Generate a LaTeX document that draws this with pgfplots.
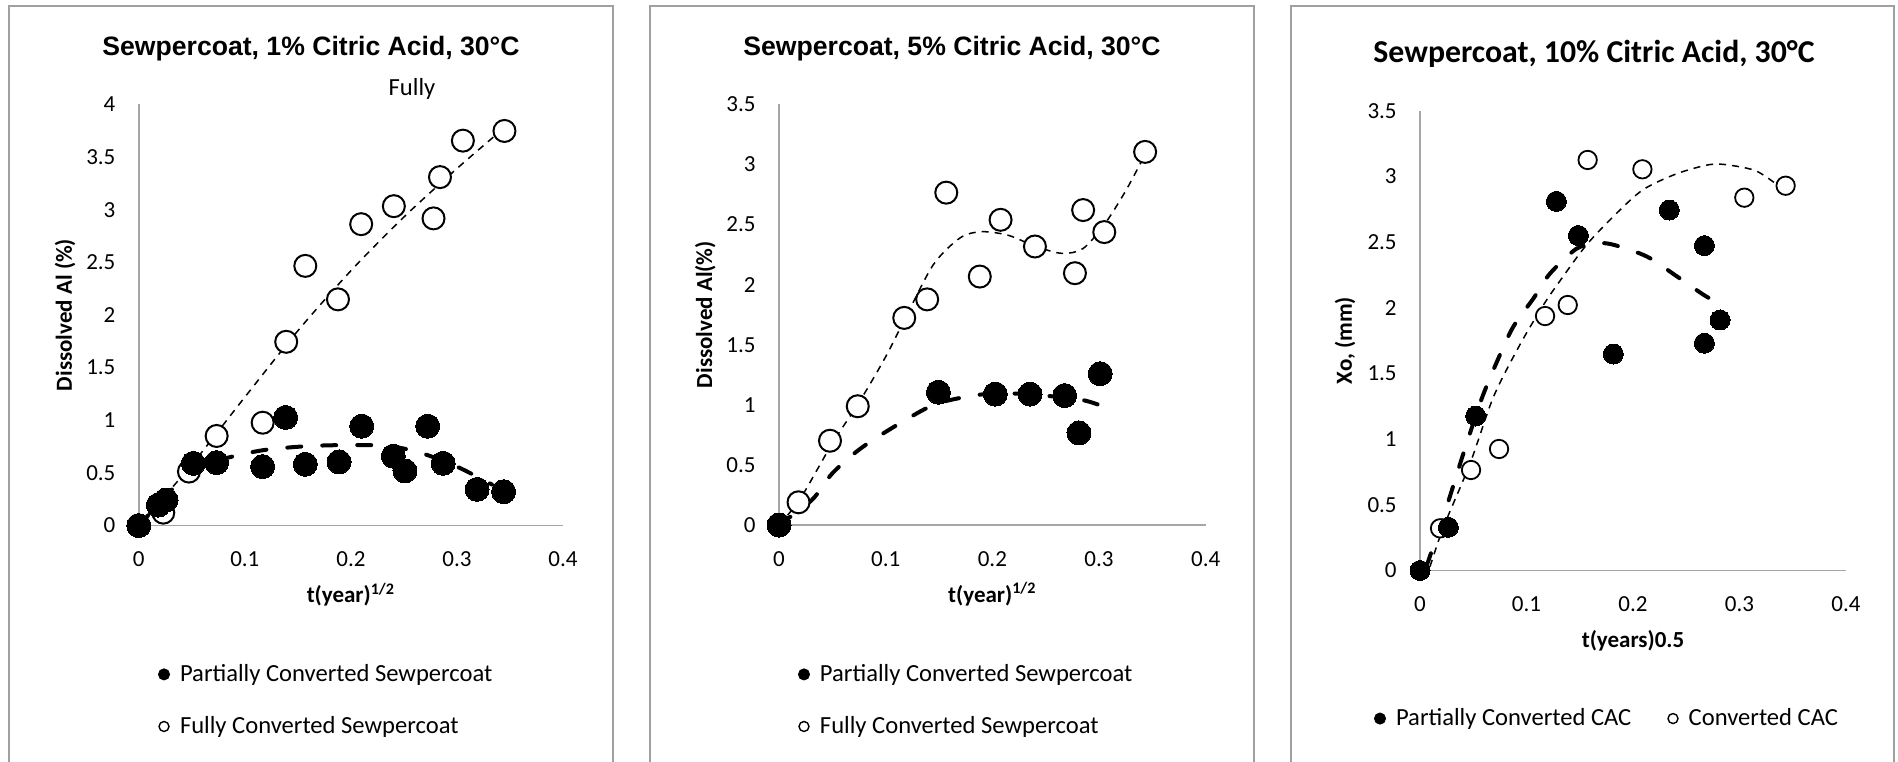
\documentclass[border=0pt]{standalone}
\usepackage{fontspec}
\setmainfont{Carlito}
\newfontfamily\arialfont{Liberation Sans}
\usepackage{pgfplots}
\pgfplotsset{compat=1.18}
\definecolor{framegray}{RGB}{160,160,160}
\definecolor{axisgray}{RGB}{166,166,166}

\pgfplotsset{
  panel/.style={
    scale only axis,
    axis lines=left,
    axis line style={axisgray, line width=0.8pt, -},
    xmin=0, xmax=0.4, ymin=0,
    xtick={0,0.1,0.2,0.3,0.4},
    major tick length=0pt,
    tick style={draw=none},
    /pgf/number format/assume math mode=true,
    /pgf/number format/fixed,
    /pgf/number format/precision=2,
    ticklabel style={font=\fontsize{11.5}{13}\selectfont, inner sep=0pt},
    yticklabel style={anchor=east, xshift=-11.5pt},
    xticklabel style={anchor=north, yshift=-13pt},
    clip=false,
    label style={font=\bfseries\fontsize{11.5}{13}\selectfont},
    legend style={draw=none, fill=none, inner sep=0pt, outer sep=0pt,
      font=\fontsize{12.3}{14}\selectfont, nodes={inner sep=0pt},
      cells={anchor=west}, row sep=16pt},
    legend cell align=left,
    /tikz/every odd column/.append style={column sep=5pt},
    reverse legend,
  },
  fillA/.style={only marks, mark=*, mark size=6pt, mark options={fill=black, draw=black, line width=0pt},
    legend image code/.code={\fill[black] (2.8pt,0pt) circle (2.8pt);}},
  openA/.style={only marks, mark=*, mark size=5.5pt, mark options={fill=white, draw=black, line width=1pt},
    legend image code/.code={\draw[black, line width=0.7pt, fill=white] (2.8pt,0pt) circle (2.5pt);}},
  fillB/.style={only marks, mark=*, mark size=5pt, mark options={fill=black, draw=black, line width=0pt},
    legend image code/.code={\fill[black] (2.8pt,0pt) circle (2.8pt);}},
  openB/.style={only marks, mark=*, mark size=4.6pt, mark options={fill=white, draw=black, line width=0.9pt},
    legend image code/.code={\draw[black, line width=0.7pt, fill=white] (2.8pt,0pt) circle (2.5pt);}},
  thicktrend/.style={black, line width=2pt, line cap=round, dash pattern=on 7pt off 10.5pt, smooth, no marks, forget plot},
  thintrend/.style={black, line width=0.75pt, dash pattern=on 3.5pt off 3pt, smooth, no marks, forget plot},
}

\begin{document}
\begin{tikzpicture}
\useasboundingbox (0,0) rectangle (949pt,380.5pt);
\fill[white] (0,0) rectangle (949pt,380.5pt);

% panel frames
\draw[framegray, line width=1pt] (4.5pt,-1pt) -- (4.5pt,377.5pt) -- (306.5pt,377.5pt) -- (306.5pt,-1pt);
\draw[framegray, line width=1pt] (325pt,-1pt) -- (325pt,377.5pt) -- (627pt,377.5pt) -- (627pt,-1pt);
\draw[framegray, line width=1pt] (645.5pt,-1pt) -- (645.5pt,377.5pt) -- (947pt,377.5pt) -- (947pt,-1pt);

% titles
\node[font=\arialfont\bfseries\fontsize{13.3}{16}\selectfont] at (155.5pt,356.25pt) {Sewpercoat, 1\% Citric Acid, 30°C};
\node[font=\arialfont\bfseries\fontsize{13.3}{16}\selectfont] at (476pt,356.25pt) {Sewpercoat, 5\% Citric Acid, 30°C};
\node[font=\bfseries\fontsize{15.9}{18}\selectfont] at (797pt,353.8pt) {Sewpercoat, 10\% Citric Acid, 30°C};
\node[font=\fontsize{12.3}{14}\selectfont] at (206pt,336.1pt) {Fully};

% ---------------- Panel 1 ----------------
\begin{axis}[panel,
  at={(69.4pt,117.7pt)}, anchor=origin,
  width=212.1pt, height=210.65pt,
  ymax=4, ytick={0,0.5,1,1.5,2,2.5,3,3.5,4},
  ylabel={Dissolved Al (\%)},
  ylabel style={at={(axis description cs:-0.174,0.5)}, anchor=center},
  xlabel={t(year)\textsuperscript{1/2}},
  xlabel style={at={(axis description cs:0.5,-0.164)}, anchor=center},
  legend style={at={(axis description cs:0.0453,-0.415)}, anchor=west},
]
\addplot[openA] coordinates {
 (0,0) (0.0231,0.123) (0.0473,0.513) (0.0734,0.851) (0.1168,0.977) (0.139,1.745)
 (0.157,2.466) (0.1878,2.148) (0.2097,2.862) (0.2405,3.033) (0.2779,2.917)
 (0.284,3.309) (0.3056,3.655) (0.3448,3.747)};
\addlegendentry{Fully Converted Sewpercoat}
\addplot[fillA] coordinates {
 (0,0) (0.0184,0.195) (0.0257,0.243) (0.0514,0.591) (0.0734,0.598) (0.1168,0.56)
 (0.1385,1.027) (0.157,0.582) (0.1888,0.605) (0.2102,0.944) (0.240,0.659)
 (0.251,0.52) (0.2724,0.944) (0.287,0.591) (0.319,0.344) (0.344,0.322)};
\addlegendentry{Partially Converted Sewpercoat}
\addplot[thicktrend] coordinates {
 (0,0) (0.02,0.22) (0.04,0.43) (0.06,0.57) (0.09,0.66) (0.12,0.72) (0.16,0.755)
 (0.2,0.765) (0.236,0.755) (0.266,0.69) (0.3,0.56) (0.333,0.39)};
\addplot[thintrend] coordinates {
 (0,0) (0.05,0.58) (0.1,1.22) (0.15,1.85) (0.2,2.42) (0.25,2.93) (0.3,3.39) (0.345,3.78)};
\end{axis}

% ---------------- Panel 2 ----------------
\begin{axis}[panel,
  at={(389.5pt,118pt)}, anchor=origin,
  width=213.35pt, height=210.35pt,
  ymax=3.5, ytick={0,0.5,1,1.5,2,2.5,3,3.5},
  ylabel={Dissolved Al(\%)},
  ylabel style={at={(axis description cs:-0.1727,0.5)}, anchor=center},
  xlabel={t(year)\textsuperscript{1/2}},
  xlabel style={at={(axis description cs:0.5,-0.164)}, anchor=center},
  legend style={at={(axis description cs:0.0445,-0.417)}, anchor=west},
]
\addplot[openA] coordinates {
 (0,0) (0.0183,0.189) (0.0478,0.701) (0.0738,0.988) (0.1174,1.723) (0.1389,1.877)
 (0.1568,2.765) (0.1882,2.067) (0.2077,2.539) (0.2399,2.317) (0.2774,2.095)
 (0.2851,2.62) (0.3049,2.437) (0.3432,3.104)};
\addlegendentry{Fully Converted Sewpercoat}
\addplot[fillA] coordinates {
 (0,0) (0.1494,1.105) (0.2028,1.089) (0.2353,1.089) (0.2678,1.077) (0.2812,0.766) (0.3011,1.259)};
\addlegendentry{Partially Converted Sewpercoat}
\addplot[thicktrend] coordinates {
 (0,0) (0.031,0.21) (0.05,0.43) (0.077,0.64) (0.115,0.855) (0.15,1.015) (0.2,1.095)
 (0.25,1.075) (0.287,1.035) (0.316,0.945)};
\addplot[thintrend] coordinates {
 (0,0) (0.02,0.22) (0.05,0.68) (0.075,1.02) (0.1,1.40) (0.12,1.75) (0.145,2.17)
 (0.17,2.39) (0.19,2.44) (0.215,2.41) (0.24,2.32) (0.265,2.26) (0.285,2.3)
 (0.305,2.5) (0.325,2.78) (0.343,3.08)};
\end{axis}

% ---------------- Panel 3 ----------------
\begin{axis}[panel,
  at={(710pt,95.25pt)}, anchor=origin,
  width=213pt, height=229.9pt,
  ymax=3.5, ytick={0,0.5,1,1.5,2,2.5,3,3.5},
  ylabel={Xo, (mm)},
  ylabel style={at={(axis description cs:-0.176,0.5)}, anchor=center},
  xlabel={t(years)0.5},
  xlabel style={at={(axis description cs:0.5,-0.152)}, anchor=center},
  legend columns=2,
  /tikz/every even column/.append style={column sep=18pt},
  legend style={at={(axis description cs:-0.108,-0.322)}, anchor=west},
]
\addplot[openB] coordinates {
 (0.0188,0.321) (0.0479,0.765) (0.0742,0.925) (0.1174,1.937) (0.1387,2.021)
 (0.1574,3.125) (0.2088,3.054) (0.3045,2.838) (0.3433,2.929)};
\addlegendentry{Converted CAC}
\addplot[fillB] coordinates {
 (0,0) (0.0266,0.329) (0.0523,1.176) (0.128,2.81) (0.1487,2.55) (0.1815,1.648)
 (0.234,2.744) (0.267,2.473) (0.267,1.73) (0.2817,1.907)};
\addlegendentry{Partially Converted CAC}
\addplot[thicktrend] coordinates {
 (0.006,0.03) (0.025,0.486) (0.0407,0.89) (0.058,1.31) (0.0736,1.615) (0.0876,1.856)
 (0.1064,2.07) (0.122,2.26) (0.147,2.45) (0.166,2.49) (0.1815,2.48) (0.213,2.39)
 (0.241,2.24) (0.266,2.10) (0.281,2.03)};
\addplot[thintrend] coordinates {
 (0.0094,0.03) (0.022,0.33) (0.047,0.815) (0.0689,1.32) (0.0939,1.72) (0.1158,2.02)
 (0.131,2.2) (0.1565,2.48) (0.1847,2.72) (0.2097,2.90) (0.241,3.02) (0.272,3.09)
 (0.291,3.085) (0.316,3.04) (0.338,2.92)};
\end{axis}
\end{tikzpicture}
\end{document}
